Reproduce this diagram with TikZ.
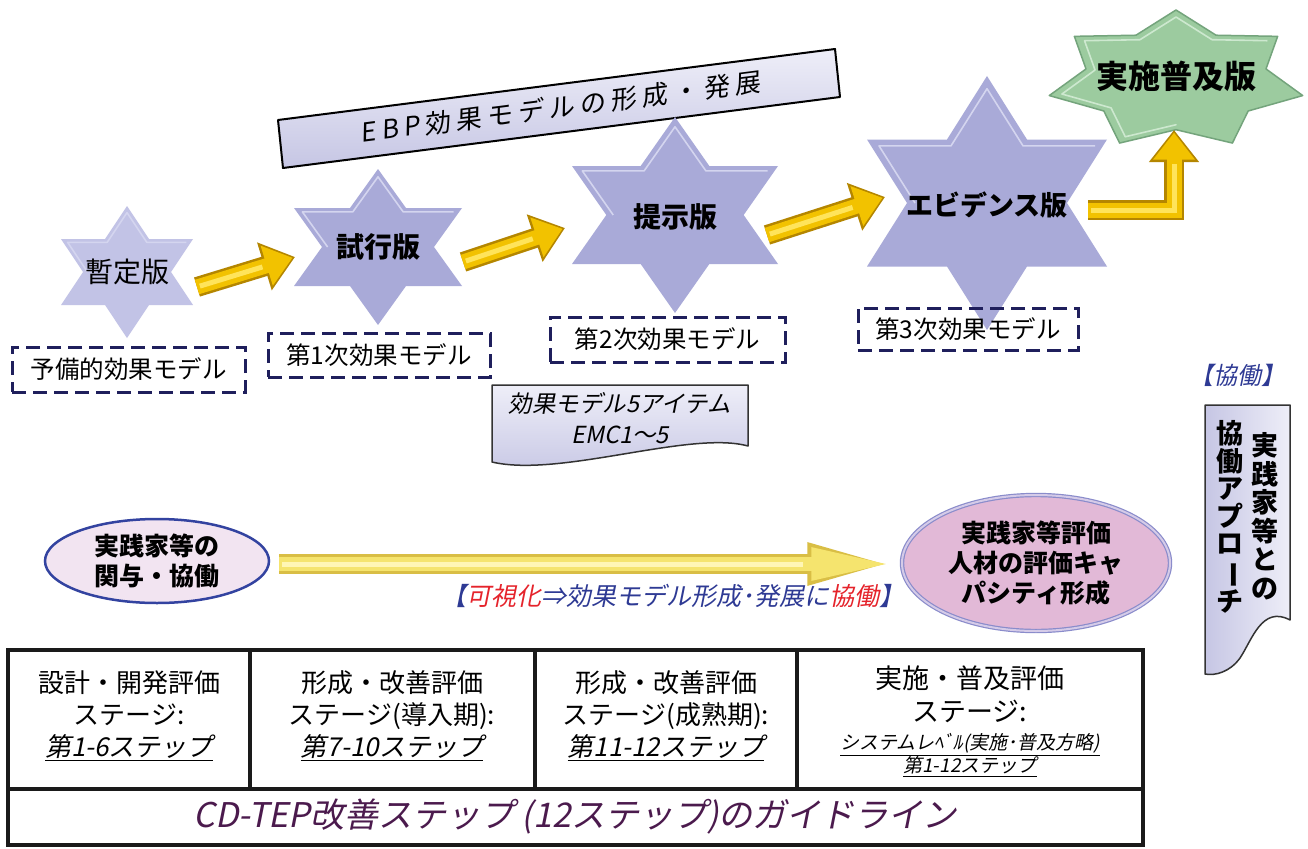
\documentclass[tikz,border=0pt]{standalone}
\usepackage{fontspec}
\usepackage{graphicx}
\setmainfont{Noto Sans CJK JP}[AutoFakeSlant=0.2]
\newfontfamily\spacedfont{Noto Sans CJK JP}[LetterSpace=20, AutoFakeSlant=0.15]
\usetikzlibrary{arrows.meta,calc,shapes.geometric}
\definecolor{starfill}{HTML}{A9AAD8}
\definecolor{starlight}{HTML}{C2C3E6}
\definecolor{starhi}{HTML}{D4D5EF}
\definecolor{gfill}{HTML}{9CCB9F}
\definecolor{gedge}{HTML}{74A47C}
\definecolor{ghi}{HTML}{CDE8CF}
\definecolor{navy}{HTML}{1F1F5C}
\definecolor{ydark}{HTML}{B48600}
\definecolor{ymain}{HTML}{F2C200}
\definecolor{ylight}{HTML}{FFE45A}
\definecolor{pdark}{HTML}{D9BE45}
\definecolor{pmain}{HTML}{F5E46E}
\definecolor{plight}{HTML}{FFF6B5}
\definecolor{cblue}{HTML}{2E3A94}
\definecolor{cred}{HTML}{E5232B}
\definecolor{e1fill}{HTML}{F2E4F1}
\definecolor{e1edge}{HTML}{3343A0}
\definecolor{e2fill}{HTML}{E2B9D7}
\definecolor{e2edge}{HTML}{8A8CCB}
\definecolor{e2dbl}{HTML}{D5CBE8}
\definecolor{lav}{HTML}{C6C6E4}
\definecolor{lavlight}{HTML}{EEEEF8}
\definecolor{tline}{HTML}{1A1A1A}
\definecolor{gtext}{HTML}{4B1A4D}

\newcommand\hexstar[5]{%
\begin{scope}[shift={(#1,#2)},xscale=#3,yscale=#4]
\fill[#5] (0,-1) -- (1/3,-0.5) -- (1,-0.5) -- (2/3,0) -- (1,0.5) -- (1/3,0.5) -- (0,1) -- (-1/3,0.5) -- (-1,0.5) -- (-2/3,0) -- (-1,-0.5) -- (-1/3,-0.5) -- cycle;
\draw[starhi, line width=1.6pt, line join=round, scale=0.9] (-2/3,0) -- (-1,-0.5) -- (-1/3,-0.5) -- (0,-1) -- (1/3,-0.5) -- (1,-0.5);
\end{scope}}

\newcommand\yarrow[3]{%
\draw[yout] #1 #2 #3;
\draw[yin] #1 #2 #3;
\draw[yhi] #1 #2 #3;}

\begin{document}
\begin{tikzpicture}[x=1pt,y=-1pt,
  lbl/.style={inner sep=0pt, text=black},
  startext/.style={lbl, font=\fontsize{28}{32}\selectfont\bfseries},
  dbox/.style={draw=navy, line width=3pt, dash pattern=on 14pt off 7pt, inner sep=0pt, font=\fontsize{24.5}{28}\selectfont},
  celltext/.style={lbl, align=center, font=\fontsize{26}{32}\selectfont},
  yout/.style={line width=20pt, draw=ydark, line join=miter, -{Triangle[length=32pt,width=48pt]}},
  yin/.style={line width=15pt, draw=ymain, line join=miter, shorten >=2.6pt, -{Triangle[length=27pt,width=40pt]}},
  yhi/.style={line width=5pt, draw=ylight, line join=miter, shorten >=34pt, shorten <=3pt},
  pout/.style={line width=20pt, draw=pdark, -{Triangle[length=92pt,width=36pt]}},
  pin/.style={line width=14pt, draw=pmain, shorten >=4pt, -{Triangle[length=84pt,width=29pt]}},
  phi/.style={line width=5pt, draw=plight, shorten >=96pt, shorten <=3pt},
]
\useasboundingbox (0,0) rectangle (1308,848);
\fill[white] (0,0) rectangle (1308,848);

% banner
\fill[top color=lavlight, bottom color=lav] (278,120) -- (835,49) -- (840,97) -- (283,168) -- cycle;
\draw[black, line width=2pt, line join=round] (278,120) -- (835,49) -- (840,97) -- (283,168) -- cycle;
\node[lbl, rotate=7.3, font=\fontsize{26}{30}\selectfont\spacedfont\itshape] (ban) at (560,107) {EBP効果モデルの形成・発展};

% stars
\hexstar{127}{272}{66}{66}{starlight}
\hexstar{378}{247}{84}{78}{starfill}
\hexstar{675}{215}{103}{98}{starfill}
\hexstar{987}{203}{120}{127}{starfill}
\begin{scope}[shift={(1176,80)}, xscale=130, yscale=70]
\fill[gfill] (-90:1) \foreach \k in {1,...,7}{ -- ({-90+51.4286*\k-25.7143}:0.71) -- ({-90+51.4286*\k}:1)} -- cycle;
\draw[gedge, line width=1.5pt, line join=round] (-90:1) \foreach \k in {1,...,7}{ -- ({-90+51.4286*\k-25.7143}:0.71) -- ({-90+51.4286*\k}:1)} -- cycle;
\draw[ghi, line width=1.6pt, line join=round, scale=0.9] ({-90-3*51.4286}:1) \foreach \k in {-3,...,1}{ -- ({-90+51.4286*\k-25.7143}:0.71) -- ({-90+51.4286*\k}:1)};
\end{scope}

\node[lbl, font=\fontsize{28}{32}\selectfont] (s1) at (127,272) {暫定版};
\node[startext] (s2) at (378,247) {試行版};
\node[startext] (s3) at (675,217) {提示版};
\node[startext, font=\fontsize{27}{32}\selectfont\bfseries] (s4) at (987,205) {エビデンス版};
\node[startext, font=\fontsize{32}{36}\selectfont\bfseries] (s5) at (1176,76) {実施普及版};

% yellow arrows
\yarrow{($(s1)+(70,15)$)}{--}{($(s2)+(-83,10)$)}
\yarrow{($(s2)+(85,15)$)}{--}{($(s3)+(-110,11)$)}
\yarrow{($(s3)+(92,18)$)}{--}{($(s4)+(-102,-8)$)}
\yarrow{($(s4)+(101,5)$)}{-|}{($(s5)+(-2,54)$)}

% dashed boxes
\node[dbox, minimum width=233pt, minimum height=45pt] (d0) at (128.5,369.5) {予備的効果モデル};
\node[dbox, minimum width=222pt, minimum height=44pt] (d1) at (379,355) {第1次効果モデル};
\node[dbox, minimum width=235pt, minimum height=45pt] (d2) at (667.5,339.5) {第2次効果モデル};
\node[dbox, minimum width=220pt, minimum height=42pt] (d3) at (968,329) {第3次効果モデル};

% document box
\fill[top color=lavlight, bottom color=lav] (492,385) -- (748,385) -- (748,446) .. controls (690,430) and (560,478) .. (492,462) -- cycle;
\draw[black!80, line width=1.5pt, line join=round] (492,385) -- (748,385) -- (748,446) .. controls (690,430) and (560,478) .. (492,462) -- cycle;
\node[lbl, align=center, font=\fontsize{23.5}{31}\selectfont\itshape] (emc) at (620,418) {効果モデル5アイテム\\EMC1～5};

% vertical box
\node[lbl, font=\fontsize{24}{28}\selectfont\itshape, text=cblue] (kyo) at (1237,375) {【協働】};
\fill[left color=lav, right color=lavlight] (1205,405) -- (1290,405) -- (1290,620) .. controls (1262,605) and (1252,640) .. (1240,658) .. controls (1230,672) and (1215,676) .. (1205,674) -- cycle;
\draw[black!80, line width=1.5pt, line join=round] (1205,405) -- (1290,405) -- (1290,620) .. controls (1262,605) and (1252,640) .. (1240,658) .. controls (1230,672) and (1215,676) .. (1205,674) -- cycle;
\node[lbl, align=center, font=\fontsize{27}{28.5}\selectfont\bfseries] (vc1) at (1265,516) {実\\践\\家\\等\\と\\の};
\node[lbl, align=center, font=\fontsize{27}{27.5}\selectfont\bfseries] (vc2) at (1230,517) {協\\働\\ア\\プ\\ロ\\\rotatebox[origin=c]{-90}{ー}\\チ};

% ellipses
\node[ellipse, draw=e1edge, line width=2.5pt, fill=e1fill, minimum width=224pt, minimum height=84pt, inner sep=0pt] (e1) at (157,561) {};
\node[lbl, align=center, font=\fontsize{25}{30}\selectfont\bfseries] (e1t) at (e1) {実践家等の\\関与・協働};
\node[ellipse, draw=e2edge, line width=1.2pt, double=e2dbl, double distance=2pt, fill=e2fill, minimum width=268pt, minimum height=136pt, inner sep=0pt] (e2) at (1036,563) {};
\node[lbl, align=center, font=\fontsize{25}{30}\selectfont\bfseries] (e2t) at (e2) {実践家等評価\\人材の評価キャ\\パシティ形成};

% long arrow
\draw[pout] ([xshift=9pt,yshift=-3pt]e1.east) -- ([xshift=-2pt,yshift=-1pt]e2.west);
\draw[pin] ([xshift=9pt,yshift=-3pt]e1.east) -- ([xshift=-2pt,yshift=-1pt]e2.west);
\draw[phi] ([xshift=9pt,yshift=-3pt]e1.east) -- ([xshift=-2pt,yshift=-1pt]e2.west);
\node[lbl, font=\fontsize{25}{28}\selectfont\itshape] (cap) at (673,596) {\textcolor{cblue}{【}\textcolor{cred}{可視化}\textcolor{cblue}{⇒効果モデル形成･発展に}\textcolor{cred}{協働}\textcolor{cblue}{】}};

% table
\draw[tline, line width=4pt] (8,650) rectangle (1143,845);
\draw[tline, line width=4pt] (8,789) -- (1143,789);
\draw[tline, line width=4pt] (250,650) -- (250,789);
\draw[tline, line width=4pt] (535,650) -- (535,789);
\draw[tline, line width=4pt] (797,650) -- (797,789);
\node[celltext] (c1) at (129,716) {設計・開発評価\\ステージ:\\\underline{\itshape 第1-6ステップ}};
\node[celltext] (c2) at (392,716) {形成・改善評価\\ステージ(導入期):\\\underline{\itshape 第7-10ステップ}};
\node[celltext] (c3) at (666,716) {形成・改善評価\\ステージ(成熟期):\\\underline{\itshape 第11-12ステップ}};
\node[celltext, font=\fontsize{27}{33}\selectfont] (c4a) at (970,694) {実施・普及評価\\ステージ:};
\node[celltext, font=\fontsize{19}{23}\selectfont\itshape] (c4b) at (970,755) {\underline{システムレﾍﾞﾙ(実施･普及方略)}\\\underline{第1-12ステップ}};
\node[lbl, font=\fontsize{34}{38}\selectfont\itshape, text=gtext] (guide) at (575,817) {CD-TEP改善ステップ (12ステップ)のガイドライン};
\end{tikzpicture}
\end{document}
